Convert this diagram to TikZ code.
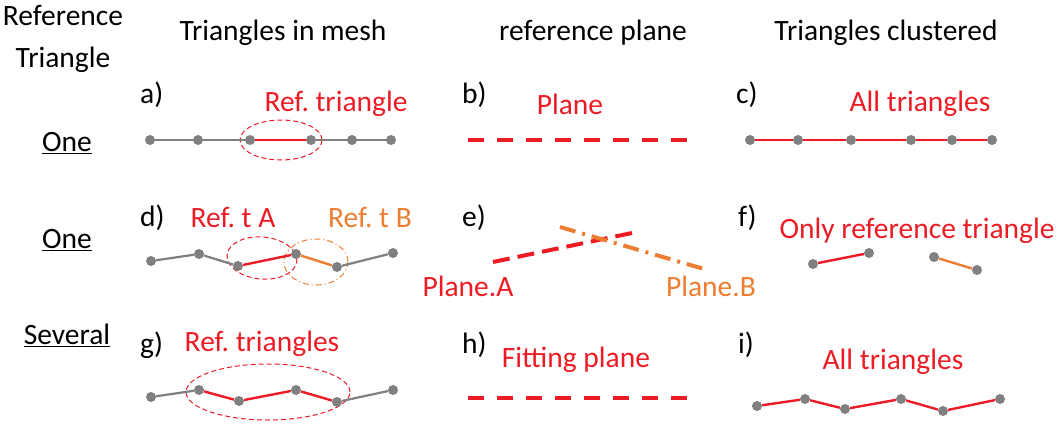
\documentclass[tikz,border=0pt]{standalone}
\usepackage{fontspec}
\setmainfont{Carlito}
\usetikzlibrary{shapes.geometric}
\definecolor{refred}{RGB}{237,28,36}
\definecolor{reforange}{RGB}{237,125,49}
\definecolor{meshgray}{RGB}{128,128,128}
\frenchspacing

\begin{document}
\begin{tikzpicture}[
    x=1pt, y=-1pt,
    font=\fontsize{29.5}{42}\selectfont,
    vertex/.style={circle, fill=meshgray, inner sep=0pt, minimum size=10pt},
    edge/.style={draw=meshgray, line width=2.2pt},
    refedge/.style={draw=refred, line width=2.4pt},
    refedgeB/.style={draw=reforange, line width=2.4pt},
    ring/.style={ellipse, draw=refred, line width=1pt, dash pattern=on 5pt off 3pt, inner sep=0pt},
    ringB/.style={ellipse, draw=reforange, line width=1pt, dash pattern=on 6pt off 3pt on 1pt off 3pt, inner sep=0pt},
    plane/.style={draw=refred, line width=4pt, dash pattern=on 16pt off 13pt},
    planeB/.style={draw=reforange, line width=4pt, dash pattern=on 16pt off 7pt on 3pt off 7pt},
    tag/.style={anchor=west, inner sep=0pt},
    redtext/.style={text=refred, inner sep=0pt},
    orangetext/.style={text=reforange, inner sep=0pt}
]
\useasboundingbox (0,0) rectangle (1063,428);

% Headers
\node[align=center, inner sep=0pt] (hdref) at (63,39) {Reference\\Triangle};
\node[inner sep=0pt] (hdmesh) at (283,33) {Triangles in mesh};
\node[inner sep=0pt] (hdplane) at (593,33) {reference plane};
\node[inner sep=0pt] (hdclust) at (886,33) {Triangles clustered};

% Row labels
\node[inner sep=0pt] (rowone) at (67,143) {\underline{One}};
\node[inner sep=0pt] (rowtwo) at (67,240) {\underline{One}};
\node[inner sep=0pt] (rowthree) at (67,335) {\underline{Several}};

% Row 1: a) b) c)
\node[tag] (ta) at (140,95) {a)};
\node[tag] (tb) at (462,95) {b)};
\node[tag] (tc) at (736,95) {c)};
\node[redtext] (lbla) at (336,104) {Ref. triangle};
\node[redtext] (lblb) at (570,104) {Plane};
\node[redtext] (lblc) at (920,104) {All triangles};

\node[ring, minimum width=82pt, minimum height=40pt] (ringa) at (281,140) {};
\draw[edge] (150,140) -- (391,140);
\draw[refedge] (250,140) -- (311,140);
\foreach \x [count=\i] in {150,198,250,311,352,391}
    \node[vertex] (a\i) at (\x,140) {};

\coordinate (pb1) at (468,140);
\coordinate (pb2) at (697,140);
\draw[plane] (pb1) -- (pb2);

\foreach \x [count=\i] in {750,798,851,911,952,992}
    \node[vertex] (c\i) at (\x,140) {};
\foreach \i [evaluate=\i as \j using int(\i+1)] in {1,...,5}
    \draw[refedge] (c\i) -- (c\j);

% Row 2: d) e) f)
\node[tag] (td) at (140,218) {d)};
\node[tag] (te) at (462,218) {e)};
\node[tag] (tf) at (738,218) {f)};
\node[redtext] (lbld1) at (233,218) {Ref. t A};
\node[orangetext] (lbld2) at (370,218) {Ref. t B};

\node[ring, minimum width=70pt, minimum height=42pt, rotate=-5] (ringd1) at (262,258) {};
\node[ringB, minimum width=64pt, minimum height=46pt] (ringd2) at (316,262) {};
\node[vertex] (d1) at (151,261) {};
\node[vertex] (d2) at (199,254) {};
\node[vertex] (d3) at (238,266) {};
\node[vertex] (d4) at (296,254) {};
\node[vertex] (d5) at (337,267) {};
\node[vertex] (d6) at (393,253) {};
\draw[edge] (d1) -- (d2);
\draw[edge] (d2) -- (d3);
\draw[refedge] (d3) -- (d4);
\draw[refedgeB] (d4) -- (d5);
\draw[edge] (d5) -- (d6);

\coordinate (pea1) at (493,262);
\coordinate (pea2) at (632,233);
\coordinate (peb1) at (560,227);
\coordinate (peb2) at (704,269);
\draw[plane, dash pattern=on 17pt off 8pt] (pea1) -- (pea2);
\draw[planeB] (peb1) -- (peb2);
\node[redtext] (lblea) at (468,286) {Plane.A};
\node[orangetext] (lbleb) at (711,286) {Plane.B};

\node[redtext] (lblf) at (917,231) {Only reference triangle};
\node[vertex] (f1) at (813,264) {};
\node[vertex] (f2) at (869,253) {};
\node[vertex] (f3) at (934,257) {};
\node[vertex] (f4) at (977,270) {};
\draw[refedge] (f1) -- (f2);
\draw[refedgeB] (f3) -- (f4);

% Row 3: g) h) i)
\node[tag] (tg) at (140,345) {g)};
\node[tag] (th) at (462,345) {h)};
\node[tag] (ti) at (738,345) {i)};
\node[redtext] (lblg) at (262,344) {Ref. triangles};
\node[redtext] (lblh) at (576,360) {Fitting plane};
\node[redtext] (lbli) at (893,362) {All triangles};

\node[ring, minimum width=164pt, minimum height=56pt] (ringg) at (268,392) {};
\node[vertex] (g1) at (151,397) {};
\node[vertex] (g2) at (199,390) {};
\node[vertex] (g3) at (239,401) {};
\node[vertex] (g4) at (296,390) {};
\node[vertex] (g5) at (337,402) {};
\node[vertex] (g6) at (393,390) {};
\draw[edge] (g1) -- (g2);
\draw[refedge] (g2) -- (g3);
\draw[refedge] (g3) -- (g4);
\draw[refedge] (g4) -- (g5);
\draw[edge] (g5) -- (g6);

\coordinate (ph1) at (468,398);
\coordinate (ph2) at (697,398);
\draw[plane] (ph1) -- (ph2);

\node[vertex] (i1) at (757,406) {};
\node[vertex] (i2) at (805,399) {};
\node[vertex] (i3) at (845,409) {};
\node[vertex] (i4) at (901,399) {};
\node[vertex] (i5) at (943,411) {};
\node[vertex] (i6) at (1000,399) {};
\foreach \i [evaluate=\i as \j using int(\i+1)] in {1,...,5}
    \draw[refedge] (i\i) -- (i\j);

\end{tikzpicture}
\end{document}
